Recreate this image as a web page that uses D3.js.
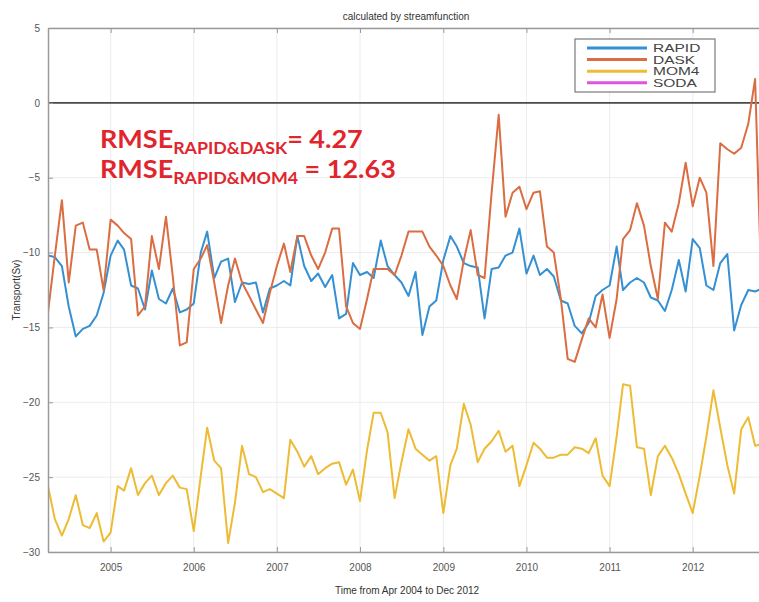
<!DOCTYPE html>
<html>
<head>
<meta charset="utf-8">
<script src="https://cdn.jsdelivr.net/npm/d3@7"></script>
<style>
  body { margin: 0; background: #fff; }
  svg { display: block; }
</style>
</head>
<body>
<svg id="chart" width="759" height="602"></svg>
<script>
// Monthly overturning transport (Sv), April 2004 onwards
const startMonth = "2004-04";

const rapid = [
  -10.2, -10.3, -10.9, -13.6, -15.6, -15.1, -14.9, -14.2, -12.7, -10.2,
  -9.2, -9.8, -12.2, -12.4, -13.8, -11.2, -13.1, -13.4, -12.4, -14.0,
  -13.8, -13.4, -10.0, -8.6, -11.7, -10.6, -10.4, -13.3, -12.0, -12.1,
  -12.0, -14.0, -12.4, -12.2, -11.9, -12.2, -8.9, -10.9, -11.9, -11.4,
  -12.3, -11.5, -14.4, -14.1, -10.7, -11.5, -11.3, -11.7, -9.2, -10.9,
  -11.5, -12.0, -12.9, -11.3, -15.5, -13.6, -13.2, -10.5, -8.9, -9.6,
  -10.7, -10.9, -11.0, -14.4, -11.1, -11.0, -10.2, -10.0, -8.4, -11.4,
  -10.2, -11.5, -11.1, -11.6, -13.2, -13.4, -14.9, -15.4, -14.7, -12.9,
  -12.5, -12.2, -9.6, -12.5, -12.0, -11.7, -12.0, -13.0, -13.2, -13.9,
  -12.5, -10.5, -12.6, -9.1, -9.7, -12.2, -12.5, -10.7, -10.1, -15.2,
  -13.5, -12.5, -12.6, -12.4, -12.5
];

const dask = [
  -14.0, -10.2, -6.5, -12.0, -8.2, -8.0, -9.8, -9.8, -12.5, -7.8,
  -8.2, -8.7, -9.1, -14.2, -13.6, -8.9, -11.1, -7.6, -11.6, -16.2,
  -16.0, -11.1, -10.4, -9.5, -12.0, -14.7, -12.2, -10.4, -12.0, -12.9,
  -13.8, -14.7, -12.7, -10.9, -9.4, -11.3, -8.9, -8.9, -10.2, -11.1,
  -10.0, -8.4, -8.4, -13.6, -14.7, -15.1, -13.1, -11.1, -11.1, -11.1,
  -11.5, -10.2, -8.6, -8.6, -8.6, -9.6, -10.2, -10.9, -12.2, -13.1,
  -10.5, -8.5, -11.5, -11.7, -6.0, -0.8, -7.6, -6.0, -5.6, -7.1,
  -6.0, -5.9, -9.6, -10.0, -13.1, -17.1, -17.3, -15.8, -14.4, -15.0,
  -12.8, -15.7, -13.1, -9.1, -8.5, -6.7, -8.2, -10.9, -13.1, -8.0,
  -8.6, -6.7, -4.0, -6.9, -5.0, -6.0, -10.9, -2.7, -3.1, -3.4,
  -3.0, -1.4, 1.6, -14.0, -12.0
];

const mom4 = [
  -25.6, -27.8, -28.9, -27.8, -26.2, -28.2, -28.4, -27.4, -29.3, -28.7,
  -25.6, -25.9, -24.4, -26.2, -25.4, -24.9, -26.2, -25.4, -24.9, -25.7,
  -25.8, -28.6, -24.9, -21.7, -23.9, -24.4, -29.4, -26.7, -22.9, -24.8,
  -25.0, -26.0, -25.8, -26.1, -26.4, -22.5, -23.3, -24.3, -23.6, -24.8,
  -24.4, -24.1, -24.0, -25.5, -24.5, -26.6, -23.2, -20.7, -20.7, -22.0,
  -26.4, -24.0, -21.8, -23.1, -23.5, -23.9, -23.6, -27.4, -24.2, -23.1,
  -20.1, -21.5, -24.0, -23.1, -22.6, -21.9, -23.3, -22.9, -25.6, -24.2,
  -22.7, -23.1, -23.7, -23.7, -23.5, -23.5, -23.0, -23.1, -23.4, -22.4,
  -24.9, -25.6, -22.3, -18.8, -18.9, -23.0, -23.1, -26.2, -23.6, -22.9,
  -23.7, -24.8, -26.1, -27.4, -24.9, -22.3, -19.2, -21.7, -24.2, -26.1,
  -21.8, -21.0, -22.9, -22.8, -23.0
];

// SODA is listed in the legend but has no samples in this period
const soda = [];

const seriesNames = ["RAPID", "DASK", "MOM4", "SODA"];
const yTicks = [5, 0, -5, -10, -15, -20, -25, -30];
const titleText = "calculated by streamfunction";
const xLabelText = "Time from Apr 2004 to Dec 2012";
const yLabelText = "Transport(Sv)";
const rmsePairs = ["RAPID&DASK", "RAPID&MOM4"];
const rmseValues = ["4.27", "12.63"];

// ---- layout & scales ----
const svg = d3.select("#chart");
const frame = { left: 48, top: 28, right: 769, bottom: 552 };

const t0 = d3.timeParse("%Y-%m")(startMonth);
const months = d3.range(rapid.length).map(i => d3.timeMonth.offset(t0, i));

const x = d3.scaleTime()
  .domain([months[0], months[months.length - 1]])
  .range([frame.left, frame.right]);
const y = d3.scaleLinear()
  .domain([d3.min(yTicks), d3.max(yTicks)])
  .range([frame.bottom, frame.top]);

const yearTicks = d3.timeYear.range(d3.timeYear.ceil(months[0]), months[months.length - 1]);

const series = [
  { name: seriesNames[0], values: rapid, color: "#3590d3" },
  { name: seriesNames[1], values: dask,  color: "#da6d42" },
  { name: seriesNames[2], values: mom4,  color: "#edbb34" },
  { name: seriesNames[3], values: soda,  color: "#e052e0" }
];

svg.append("rect").attr("width", 759).attr("height", 602).attr("fill", "#fff");

svg.append("defs").append("clipPath").attr("id", "plotClip")
  .append("rect")
  .attr("x", frame.left).attr("y", frame.top)
  .attr("width", frame.right - frame.left).attr("height", frame.bottom - frame.top);

// ---- grid ----
const grid = svg.append("g").attr("stroke", "#ececec").attr("stroke-width", 1);
grid.selectAll("line.gx").data(yearTicks).join("line")
  .attr("x1", d => x(d)).attr("x2", d => x(d))
  .attr("y1", frame.top).attr("y2", frame.bottom);
grid.selectAll("line.gy").data(yTicks).join("line")
  .attr("x1", frame.left).attr("x2", frame.right)
  .attr("y1", d => y(d)).attr("y2", d => y(d));

// ---- zero reference line ----
svg.append("line")
  .attr("x1", frame.left).attr("x2", frame.right)
  .attr("y1", y(0)).attr("y2", y(0))
  .attr("stroke", "#4a4a4a").attr("stroke-width", 1.6);

// ---- series ----
const line = d3.line()
  .x((d, i) => x(months[i]))
  .y(d => y(d));

svg.append("g").attr("clip-path", "url(#plotClip)")
  .selectAll("path").data(series.filter(s => s.values.length)).join("path")
  .attr("d", s => line(s.values))
  .attr("fill", "none")
  .attr("stroke", s => s.color)
  .attr("stroke-width", 2)
  .attr("stroke-linejoin", "round");

// ---- axes ----
const axisColor = "#9a9a9a";
const labelColor = "#555";

function styleAxis(g) {
  g.select(".domain").attr("stroke", axisColor).attr("stroke-width", 1.5);
  g.selectAll(".tick line").attr("stroke", axisColor);
  g.selectAll(".tick text").attr("fill", labelColor)
    .attr("font-family", "'Liberation Sans', Arial, sans-serif").attr("font-size", 10);
}

svg.append("g")
  .attr("transform", `translate(0,${frame.bottom})`)
  .call(d3.axisBottom(x).tickValues(yearTicks).tickFormat(d3.timeFormat("%Y"))
    .tickSizeInner(-5).tickSizeOuter(0).tickPadding(12))
  .call(styleAxis);

svg.append("g")
  .attr("transform", `translate(0,${frame.top})`)
  .call(d3.axisTop(x).tickValues(yearTicks).tickFormat("")
    .tickSizeInner(-5).tickSizeOuter(0))
  .call(styleAxis);

svg.append("g")
  .attr("transform", `translate(${frame.left},0)`)
  .call(d3.axisLeft(y).tickValues(yTicks).tickFormat(d3.format("d"))
    .tickSizeInner(-5).tickSizeOuter(0).tickPadding(8))
  .call(styleAxis);

// ---- titles ----
svg.append("text")
  .attr("x", 406).attr("y", 20)
  .attr("text-anchor", "middle")
  .attr("font-family", "'Liberation Sans', Arial, sans-serif")
  .attr("font-size", 10).attr("fill", "#333")
  .text(titleText);

svg.append("text")
  .attr("x", 407).attr("y", 594)
  .attr("text-anchor", "middle")
  .attr("font-family", "'Liberation Sans', Arial, sans-serif")
  .attr("font-size", 10).attr("fill", "#333")
  .text(xLabelText);

svg.append("text")
  .attr("transform", "translate(20,290) rotate(-90)")
  .attr("text-anchor", "middle")
  .attr("font-family", "'Liberation Sans', Arial, sans-serif")
  .attr("font-size", 10).attr("fill", "#333")
  .text(yLabelText);

// ---- legend ----
const legend = svg.append("g").attr("transform", "translate(575,39)");
legend.append("rect")
  .attr("width", 140).attr("height", 53)
  .attr("fill", "#fff").attr("stroke", "#7a7a7a").attr("stroke-width", 1.2);
const rows = legend.selectAll("g.row").data(series).join("g")
  .attr("transform", (d, i) => `translate(0,${9 + i * 11.6})`);
rows.append("line")
  .attr("x1", 12).attr("x2", 72)
  .attr("stroke", d => d.color).attr("stroke-width", 3);
rows.append("text")
  .attr("transform", "translate(78,4) scale(1.55,1)")
  .attr("font-family", "'Liberation Sans', Arial, sans-serif")
  .attr("font-size", 10).attr("fill", "#444")
  .text(d => d.name);

// ---- RMSE annotation ----
const ann = svg.append("g")
  .attr("font-family", "Lato, 'Open Sans', sans-serif")
  .attr("font-weight", "bold")
  .attr("fill", "#e0252d");
rmsePairs.forEach((pair, i) => {
  const t = ann.append("text")
    .attr("transform", `translate(100,${148 + i * 30}) scale(1.08,1)`);
  t.append("tspan").attr("font-size", 25).text("RMSE");
  t.append("tspan").attr("font-size", 16.5).attr("dy", 6).text(pair);
  t.append("tspan").attr("font-size", 25).attr("dy", -6)
    .text((i === 0 ? "= " : " = ") + rmseValues[i]);
});
</script>
</body>
</html>
